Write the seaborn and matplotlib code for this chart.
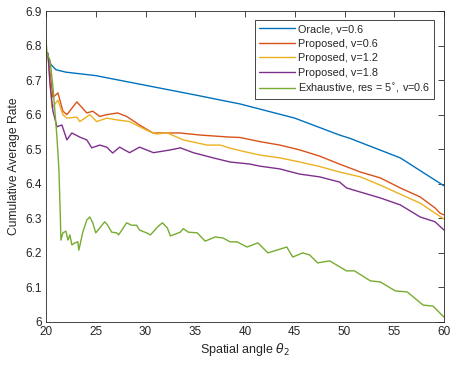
import pandas as pd
import matplotlib
matplotlib.use("Agg")
import matplotlib.pyplot as plt
import seaborn as sns

# valores (angulo, tasa)
oracle_x = [20, 20.5, 21, 22, 25, 30, 35, 39.5, 45, 49.5, 50.5, 55.6, 60]
oracle_y = [6.78, 6.745, 6.73, 6.723, 6.713, 6.685, 6.657, 6.631, 6.59, 6.541, 6.532, 6.475, 6.394]

red_x = [20, 20.2, 20.7, 21.2, 21.7, 22.1, 23.1, 24.1, 24.7, 25.4, 26.1, 27.2, 28.1, 29.4,
         30.75, 32.2, 33.5, 35.5, 38.5, 39.5, 41.5, 43.5, 45.5, 47.5, 49.5, 51.6, 53.6,
         55.6, 57.6, 59.1, 59.6, 60]
red_y = [6.78, 6.77, 6.65, 6.663, 6.61, 6.60, 6.637, 6.605, 6.61, 6.595, 6.60, 6.605, 6.595, 6.57,
         6.547, 6.547, 6.547, 6.541, 6.535, 6.534, 6.522, 6.512, 6.498, 6.48, 6.457, 6.434, 6.417,
         6.388, 6.362, 6.33, 6.315, 6.31]

yel_x = [20, 20.2, 20.6, 21.2, 21.7, 22.1, 23.1, 23.4, 24.4, 25.1, 26.1, 27.1, 28.4, 29.4,
         30.5, 31.1, 32.2, 33.8, 36.2, 37.5, 38.5, 39.5, 41.5, 43.5, 45.5, 47.5, 49.5, 51.6,
         53.6, 55.6, 57.6, 59.1, 60]
yel_y = [6.78, 6.77, 6.62, 6.642, 6.60, 6.59, 6.593, 6.58, 6.60, 6.58, 6.59, 6.585, 6.58, 6.565,
         6.55, 6.544, 6.547, 6.527, 6.512, 6.512, 6.503, 6.496, 6.483, 6.475, 6.463, 6.45, 6.434, 6.42,
         6.396, 6.37, 6.344, 6.315, 6.298]

pur_x = [20, 20.2, 20.4, 20.7, 21.1, 21.6, 22.1, 22.6, 23.4, 24.1, 24.6, 25.4, 26.1, 26.7,
         27.4, 28.4, 29.4, 30.8, 32.5, 33.5, 34.8, 36.8, 38.5, 40.5, 41.5, 43.5, 45.5, 47.5,
         49.5, 50.2, 51.6, 53.6, 55.6, 57.6, 59.1, 60]
pur_y = [6.78, 6.778, 6.69, 6.61, 6.565, 6.57, 6.527, 6.547, 6.535, 6.527, 6.504, 6.512, 6.506, 6.489,
         6.506, 6.49, 6.506, 6.49, 6.498, 6.504, 6.49, 6.475, 6.463, 6.457, 6.451, 6.443, 6.428, 6.42,
         6.405, 6.388, 6.376, 6.359, 6.339, 6.304, 6.29, 6.266]

ex_x = [20, 20.1, 20.4, 20.7, 21.1, 21.3, 21.45, 21.5, 21.7, 22.0, 22.2, 22.4, 22.6, 22.9,
        23.2, 23.3, 23.7, 24.1, 24.4, 24.7, 25.0, 25.4, 25.9, 26.2, 26.6, 27.1, 27.3, 28.1,
        28.6, 29.1, 29.4, 30.1, 30.5, 31.2, 31.7, 32.2, 32.5, 33.5, 33.8, 34.3, 35.2, 36.0,
        37.0, 37.8, 38.5, 39.2, 40.2, 41.3, 42.3, 43.2, 44.2, 44.8, 45.8, 46.5, 47.3, 48.5,
        50.2, 51.0, 52.6, 53.6, 55.1, 56.3, 57.9, 58.9, 60]
ex_y = [6.816, 6.778, 6.758, 6.68, 6.535, 6.44, 6.295, 6.237, 6.258, 6.263, 6.237, 6.252, 6.223, 6.229,
        6.232, 6.208, 6.26, 6.295, 6.304, 6.287, 6.258, 6.272, 6.29, 6.28, 6.26, 6.258, 6.252, 6.287,
        6.28, 6.28, 6.266, 6.258, 6.252, 6.275, 6.287, 6.272, 6.249, 6.26, 6.27, 6.26, 6.258, 6.234,
        6.246, 6.243, 6.232, 6.232, 6.217, 6.229, 6.2, 6.208, 6.217, 6.188, 6.2, 6.194, 6.171, 6.177,
        6.148, 6.148, 6.119, 6.116, 6.09, 6.087, 6.049, 6.046, 6.014]

etiquetas = ["Oracle, v=0.6", "Proposed, v=0.6", "Proposed, v=1.2", "Proposed, v=1.8",
             r"Exhaustive, res = 5$^{\circ}$, v=0.6"]
colores = ["#0072BD", "#D95319", "#EDB120", "#7E2F8E", "#77AC30"]

sns.set_style("white")
plt.rcParams['font.family'] = ['Liberation Sans', 'DejaVu Sans']
plt.rcParams['mathtext.fontset'] = 'dejavusans'

fig = plt.figure(figsize=(4.57, 3.66), dpi=100)
ax = fig.add_axes([46 / 457, 44 / 366, 398 / 457, 311 / 366])

series = [(oracle_x, oracle_y), (red_x, red_y), (yel_x, yel_y), (pur_x, pur_y), (ex_x, ex_y)]
for (xs, ys), lab, col in zip(series, etiquetas, colores):
    sns.lineplot(x=xs, y=ys, ax=ax, color=col, label=lab, linewidth=1.0,
                 sort=False, estimator=None)

ax.set_xlim(20, 60)
ax.set_ylim(6.0, 6.9)
ax.set_xticks(range(20, 61, 5))
ax.set_yticks([6.0, 6.1, 6.2, 6.3, 6.4, 6.5, 6.6, 6.7, 6.8, 6.9])
ax.set_yticklabels(["6", "6.1", "6.2", "6.3", "6.4", "6.5", "6.6", "6.7", "6.8", "6.9"])
ax.tick_params(direction="in", length=4, width=0.6, colors="#262626", labelsize=8.5,
               top=True, right=True, pad=3)
for s in ax.spines.values():
    s.set_color("#262626")
    s.set_linewidth(0.6)
    s.set_visible(True)

ax.set_xlabel(r"Spatial angle $\theta_2$", fontsize=9, color="#262626", labelpad=2)
ax.set_ylabel("Cumulative Average Rate", fontsize=8.7, color="#262626", labelpad=4)

leg = ax.legend(loc="upper right", bbox_to_anchor=(0.975, 0.97), fontsize=7.8,
                frameon=True, fancybox=False, framealpha=1, edgecolor="#262626",
                handlelength=3.3, handletextpad=0.3, borderpad=0.35, labelspacing=0.42,
                borderaxespad=0)
leg.get_frame().set_linewidth(0.6)

fig.savefig("out.png", dpi=100)
